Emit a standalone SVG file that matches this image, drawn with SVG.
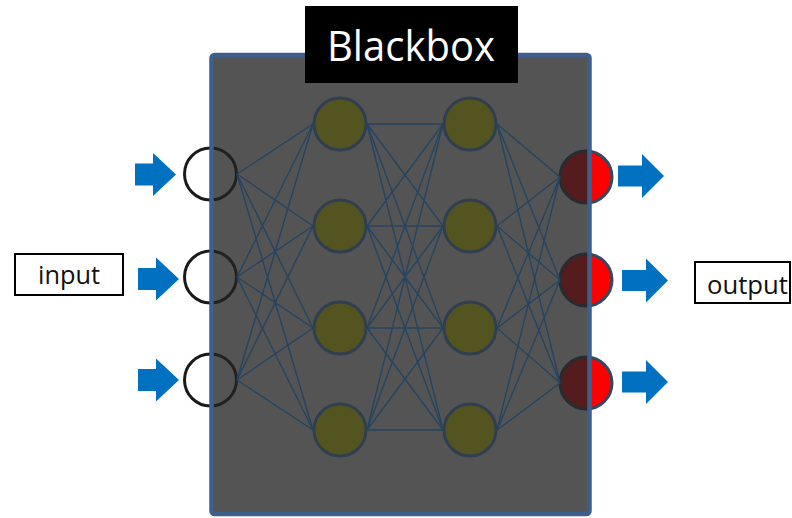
<svg xmlns="http://www.w3.org/2000/svg" xmlns:xlink="http://www.w3.org/1999/xlink" width="792" height="518" viewBox="0 0 792 518">
  <defs>
    <style>
      .in-node { fill: #ffffff; stroke: #1a1a1a; stroke-width: 3; }
      .out-node { fill: #ff0000; stroke: #34495f; stroke-width: 3; }
      .hid-node { fill: #545421; stroke: #2f3f50; stroke-width: 3; }
      .edge { stroke: #244562; stroke-width: 1.4; fill: none; }
      .arrow { fill: #0070c0; }
      .label-box { fill: #ffffff; stroke: #000000; stroke-width: 2; }
      .label { font-family: "Open Sans", "Liberation Sans", sans-serif; font-size: 25px; fill: #111111; }
    </style>
    <path id="arrow-in" d="M0,-11 H18 V-21.5 L41,0 L18,21.5 V11 H0 Z"/>
    <path id="arrow-out" d="M0,-10.5 H24 V-22 L46,0 L24,22 V10.5 H0 Z"/>
  </defs>

  <rect width="792" height="518" fill="#ffffff"/>

  <!-- input label -->
  <g id="input-label">
    <rect class="label-box" x="15" y="254" width="108" height="41"/>
    <text class="label" x="38" y="284" textLength="62" lengthAdjust="spacingAndGlyphs">input</text>
  </g>

  <!-- output label (runs off the right edge) -->
  <g id="output-label">
    <rect class="label-box" x="695" y="262" width="95" height="41"/>
    <text class="label" x="707" y="294" textLength="81" lengthAdjust="spacingAndGlyphs">output</text>
  </g>

  <!-- incoming arrows -->
  <g id="input-arrows" class="arrow">
    <use xlink:href="#arrow-in" transform="translate(135,174.5)"/>
    <use xlink:href="#arrow-in" transform="translate(138,279)"/>
    <use xlink:href="#arrow-in" transform="translate(138,380)"/>
  </g>

  <!-- outgoing arrows -->
  <g id="output-arrows" class="arrow">
    <use xlink:href="#arrow-out" transform="translate(618,176)"/>
    <use xlink:href="#arrow-out" transform="translate(622,280.5)"/>
    <use xlink:href="#arrow-out" transform="translate(622,382)"/>
  </g>

  <!-- input layer -->
  <g id="input-1"><circle class="in-node" cx="210.5" cy="174" r="26"/></g>
  <g id="input-2"><circle class="in-node" cx="210.5" cy="277" r="26"/></g>
  <g id="input-3"><circle class="in-node" cx="210.5" cy="380" r="26"/></g>

  <!-- output layer -->
  <g id="output-1"><circle class="out-node" cx="586" cy="177" r="26"/></g>
  <g id="output-2"><circle class="out-node" cx="586" cy="280" r="26"/></g>
  <g id="output-3"><circle class="out-node" cx="586" cy="383" r="26"/></g>

  <!-- tinted box body covering the network -->
  <rect id="box-body" x="211.5" y="55" width="378" height="459" rx="3" fill="#242424" fill-opacity="0.78"/>

  <!-- connections -->
  <g id="connectors" class="edge">
    <line x1="237" y1="174" x2="313" y2="124"/>
    <line x1="237" y1="174" x2="313" y2="226"/>
    <line x1="237" y1="174" x2="313" y2="328"/>
    <line x1="237" y1="174" x2="313" y2="430"/>
    <line x1="237" y1="277" x2="313" y2="124"/>
    <line x1="237" y1="277" x2="313" y2="226"/>
    <line x1="237" y1="277" x2="313" y2="328"/>
    <line x1="237" y1="277" x2="313" y2="430"/>
    <line x1="237" y1="380" x2="313" y2="124"/>
    <line x1="237" y1="380" x2="313" y2="226"/>
    <line x1="237" y1="380" x2="313" y2="328"/>
    <line x1="237" y1="380" x2="313" y2="430"/>

    <line x1="367" y1="124" x2="443" y2="124"/>
    <line x1="367" y1="124" x2="443" y2="226"/>
    <line x1="367" y1="124" x2="443" y2="328"/>
    <line x1="367" y1="124" x2="443" y2="430"/>
    <line x1="367" y1="226" x2="443" y2="124"/>
    <line x1="367" y1="226" x2="443" y2="226"/>
    <line x1="367" y1="226" x2="443" y2="328"/>
    <line x1="367" y1="226" x2="443" y2="430"/>
    <line x1="367" y1="328" x2="443" y2="124"/>
    <line x1="367" y1="328" x2="443" y2="226"/>
    <line x1="367" y1="328" x2="443" y2="328"/>
    <line x1="367" y1="328" x2="443" y2="430"/>
    <line x1="367" y1="430" x2="443" y2="124"/>
    <line x1="367" y1="430" x2="443" y2="226"/>
    <line x1="367" y1="430" x2="443" y2="328"/>
    <line x1="367" y1="430" x2="443" y2="430"/>

    <line x1="497" y1="124" x2="560" y2="177"/>
    <line x1="497" y1="124" x2="560" y2="280"/>
    <line x1="497" y1="124" x2="560" y2="383"/>
    <line x1="497" y1="226" x2="560" y2="177"/>
    <line x1="497" y1="226" x2="560" y2="280"/>
    <line x1="497" y1="226" x2="560" y2="383"/>
    <line x1="497" y1="328" x2="560" y2="177"/>
    <line x1="497" y1="328" x2="560" y2="280"/>
    <line x1="497" y1="328" x2="560" y2="383"/>
    <line x1="497" y1="430" x2="560" y2="177"/>
    <line x1="497" y1="430" x2="560" y2="280"/>
    <line x1="497" y1="430" x2="560" y2="383"/>
  </g>

  <!-- hidden layer 1 -->
  <g id="hidden1-1"><circle class="hid-node" cx="340" cy="124" r="26"/></g>
  <g id="hidden1-2"><circle class="hid-node" cx="340" cy="226" r="26"/></g>
  <g id="hidden1-3"><circle class="hid-node" cx="340" cy="328" r="26"/></g>
  <g id="hidden1-4"><circle class="hid-node" cx="340" cy="430" r="26"/></g>

  <!-- hidden layer 2 -->
  <g id="hidden2-1"><circle class="hid-node" cx="470" cy="124" r="26"/></g>
  <g id="hidden2-2"><circle class="hid-node" cx="470" cy="226" r="26"/></g>
  <g id="hidden2-3"><circle class="hid-node" cx="470" cy="328" r="26"/></g>
  <g id="hidden2-4"><circle class="hid-node" cx="470" cy="430" r="26"/></g>

  <!-- box outline -->
  <rect id="box-border" x="211.5" y="55" width="378" height="459" rx="3" fill="none" stroke="#3c5f8e" stroke-width="4.5"/>

  <!-- title tag -->
  <g id="title">
    <rect x="305" y="6" width="213" height="77" fill="#000000"/>
    <text x="411" y="61" text-anchor="middle" font-family="Open Sans, Liberation Sans, sans-serif" font-size="42" fill="#ffffff" textLength="168" lengthAdjust="spacingAndGlyphs">Blackbox</text>
  </g>
</svg>
